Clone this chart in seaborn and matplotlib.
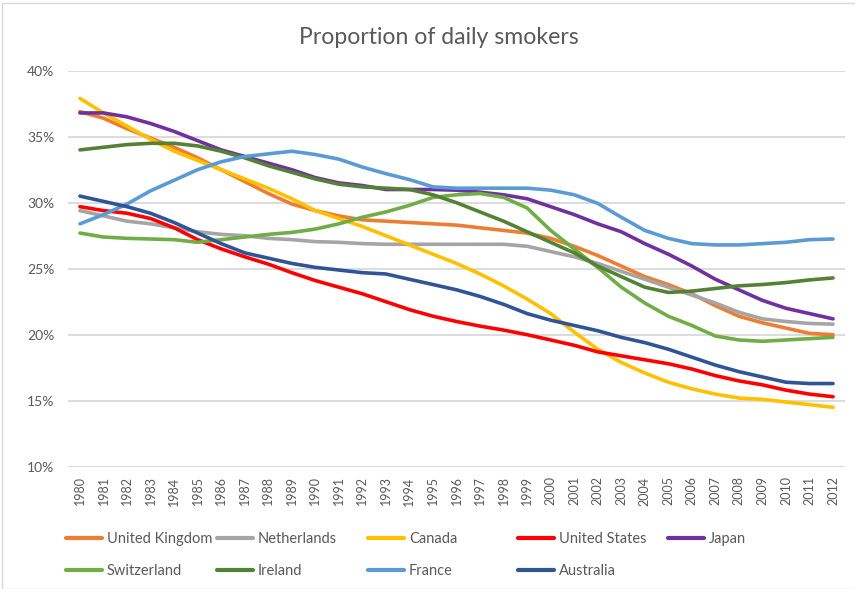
import matplotlib
matplotlib.use("Agg")
import matplotlib.pyplot as plt
from matplotlib.ticker import FuncFormatter
from matplotlib.patches import Rectangle
import seaborn as sns
import pandas as pd

years = [1980, 1981, 1982, 1983, 1984, 1985, 1986, 1987, 1988, 1989, 1990,
         1991, 1992, 1993, 1994, 1995, 1996, 1997, 1998, 1999, 2000, 2001,
         2002, 2003, 2004, 2005, 2006, 2007, 2008, 2009, 2010, 2011, 2012]

united_kingdom = [36.9, 36.4, 35.6, 34.9, 34.2, 33.4, 32.5, 31.6, 30.7, 29.9, 29.4,
                  29.0, 28.7, 28.6, 28.5, 28.4, 28.3, 28.1, 27.9, 27.7, 27.3, 26.7,
                  26.0, 25.2, 24.4, 23.8, 23.1, 22.2, 21.4, 20.9, 20.5, 20.1, 20.0]
netherlands = [29.4, 29.0, 28.6, 28.4, 28.1, 27.8, 27.6, 27.5, 27.3, 27.2, 27.05,
               27.0, 26.9, 26.85, 26.85, 26.85, 26.85, 26.85, 26.85, 26.7, 26.3, 25.9,
               25.4, 24.8, 24.2, 23.6, 23.0, 22.4, 21.7, 21.2, 21.0, 20.85, 20.8]
canada = [37.9, 36.8, 35.8, 34.8, 33.9, 33.2, 32.5, 31.8, 31.1, 30.3, 29.4,
          28.8, 28.2, 27.5, 26.8, 26.1, 25.4, 24.6, 23.7, 22.7, 21.6, 20.2,
          18.9, 17.9, 17.1, 16.4, 15.9, 15.5, 15.2, 15.1, 14.9, 14.7, 14.5]
united_states = [29.7, 29.4, 29.2, 28.8, 28.1, 27.2, 26.5, 25.9, 25.35, 24.7, 24.1,
                 23.6, 23.1, 22.5, 21.9, 21.4, 21.0, 20.65, 20.35, 20.0, 19.6, 19.2,
                 18.7, 18.4, 18.1, 17.8, 17.4, 16.9, 16.5, 16.2, 15.8, 15.5, 15.3]
japan = [36.8, 36.8, 36.5, 36.0, 35.4, 34.7, 34.0, 33.5, 33.0, 32.5, 31.9,
         31.5, 31.3, 31.0, 31.0, 31.0, 30.95, 30.8, 30.6, 30.3, 29.7, 29.1,
         28.4, 27.8, 26.9, 26.1, 25.2, 24.2, 23.4, 22.6, 22.0, 21.6, 21.2]
switzerland = [27.7, 27.4, 27.3, 27.25, 27.2, 27.0, 27.2, 27.4, 27.6, 27.75, 28.0,
               28.4, 28.9, 29.3, 29.8, 30.4, 30.6, 30.7, 30.4, 29.6, 27.9, 26.5,
               25.1, 23.6, 22.4, 21.4, 20.7, 19.9, 19.6, 19.5, 19.6, 19.7, 19.8]
ireland = [34.0, 34.2, 34.4, 34.5, 34.5, 34.3, 33.9, 33.4, 32.8, 32.3, 31.8,
           31.4, 31.2, 31.1, 31.0, 30.6, 30.0, 29.3, 28.6, 27.8, 27.0, 26.2,
           25.2, 24.4, 23.6, 23.2, 23.3, 23.5, 23.7, 23.8, 23.95, 24.15, 24.3]
france = [28.4, 29.1, 29.9, 30.9, 31.7, 32.5, 33.1, 33.5, 33.7, 33.9, 33.65,
          33.3, 32.7, 32.2, 31.75, 31.2, 31.1, 31.1, 31.1, 31.1, 30.95, 30.6,
          29.95, 28.9, 27.9, 27.3, 26.9, 26.8, 26.8, 26.9, 27.0, 27.2, 27.25]
australia = [30.5, 30.1, 29.7, 29.2, 28.5, 27.7, 26.9, 26.2, 25.8, 25.4, 25.1,
             24.9, 24.7, 24.6, 24.2, 23.8, 23.4, 22.9, 22.3, 21.6, 21.1, 20.7,
             20.3, 19.8, 19.4, 18.9, 18.3, 17.7, 17.2, 16.8, 16.4, 16.3, 16.3]

countries = ["United Kingdom", "Netherlands", "Canada", "United States", "Japan",
             "Switzerland", "Ireland", "France", "Australia"]
series = [united_kingdom, netherlands, canada, united_states, japan,
          switzerland, ireland, france, australia]
colors = ["#ED7D31", "#A5A5A5", "#FFC000", "#FF0000", "#7030A0",
          "#70AD47", "#548235", "#5B9BD5", "#2F5597"]
y_ticks = [10, 15, 20, 25, 30, 35, 40]
title = "Proportion of daily smokers"

rows = []
for c, vals in zip(countries, series):
    for yr, v in zip(years, vals):
        rows.append({"Year": yr, "Country": c, "Value": v})
df = pd.DataFrame(rows)

sns.set_style("white")
FONT = ["Lato", "DejaVu Sans"]
plt.rcParams["font.family"] = FONT
TXT = "#595959"

W, H = 855, 589
fig = plt.figure(figsize=(W / 100, H / 100), dpi=100)
ax_l, ax_r, ax_t, ax_b = 68.2, 844.8, 70.7, 466.7
ax = fig.add_axes([ax_l / W, 1 - ax_b / H, (ax_r - ax_l) / W, (ax_b - ax_t) / H])

sns.lineplot(data=df, x="Year", y="Value", hue="Country", hue_order=countries,
             palette=dict(zip(countries, colors)), linewidth=2.6, legend=False,
             ax=ax, solid_capstyle="round", solid_joinstyle="round")

ax.set_xlim(1979.5, 2012.5)
ax.set_ylim(10, 40)
ax.set_yticks(y_ticks)
ax.yaxis.set_major_formatter(FuncFormatter(lambda v, p: f"{int(v)}%"))
ax.set_xticks(years)
ax.set_xticklabels([str(y) for y in years], rotation=90)
ax.tick_params(axis="x", length=0, pad=7, labelsize=9, labelcolor=TXT)
ax.tick_params(axis="y", length=0, pad=10, labelsize=10, labelcolor=TXT)
ax.set_xlabel("")
ax.set_ylabel("")
for s in ax.spines.values():
    s.set_visible(False)
ax.yaxis.grid(True, color="#D9D9D9", linewidth=1.3)
ax.xaxis.grid(False)
ax.set_axisbelow(True)

fig.text(439 / W, 1 - 38 / H, title, ha="center", va="center",
         fontsize=16.6, color=TXT)

# legend: 5 columns, row-major order
handles = ax.get_lines()[:len(countries)]
col_x = [66, 217, 368, 518, 668]
for ci in range(5):
    idx = [ci, ci + 5] if ci + 5 < len(countries) else [ci]
    leg = fig.legend([handles[i] for i in idx], [countries[i] for i in idx],
                     loc="upper left", bbox_to_anchor=(col_x[ci] / W, 1 - 532 / H),
                     frameon=False, fontsize=10.5, handlelength=2.5,
                     handletextpad=0.3, labelspacing=1.25, borderpad=0,
                     borderaxespad=0)
    for t in leg.get_texts():
        t.set_color(TXT)
    for l in leg.get_lines():
        l.set_linewidth(3)

fig.patches.append(Rectangle((2 / W, 0), 1, 1 - 3 / H, transform=fig.transFigure,
                             fill=False, edgecolor="#D9D9D9", linewidth=1.0))

fig.savefig("out.png", dpi=100)
